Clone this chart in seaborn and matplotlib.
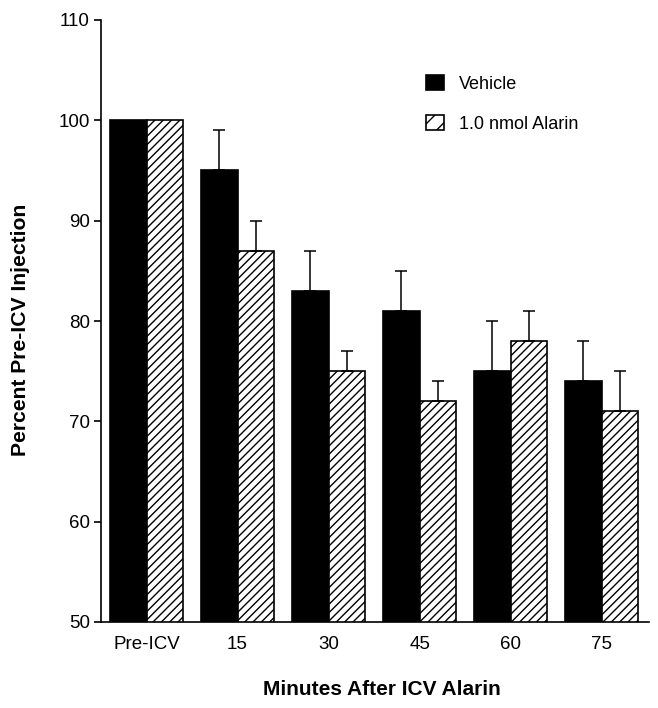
import numpy as np
import pandas as pd
import matplotlib
matplotlib.use("Agg")
import matplotlib.pyplot as plt
from matplotlib.patches import Patch
import seaborn as sns

# ---- data ----
categories = ["Pre-ICV", "15", "30", "45", "60", "75"]
series_names = ["Vehicle", "1.0 nmol Alarin"]
vehicle = [100, 95, 83, 81, 75, 74]
vehicle_err = [0, 4, 4, 4, 5, 4]
alarin = [100, 87, 75, 72, 78, 71]
alarin_err = [0, 3, 2, 2, 3, 4]
y_ticks = [50, 60, 70, 80, 90, 100, 110]
x_label = "Minutes After ICV Alarin"
y_label = "Percent Pre-ICV Injection"

df = pd.DataFrame({
    "time": categories * 2,
    "group": [series_names[0]] * len(categories) + [series_names[1]] * len(categories),
    "value": vehicle + alarin,
})

sns.set_style("ticks")
plt.rcParams["font.family"] = ["Liberation Sans", "DejaVu Sans"]
plt.rcParams["hatch.linewidth"] = 1.0
plt.rcParams["hatch.color"] = "black"
plt.rcParams["text.color"] = "black"
plt.rcParams["axes.labelcolor"] = "black"

W, H = 658, 708
fig = plt.figure(figsize=(W / 100, H / 100), dpi=100)
ax = fig.add_axes([101 / W, 1 - 622 / H, 548 / W, 602 / H])

sns.barplot(data=df, x="time", y="value", hue="group", order=categories,
            hue_order=series_names, palette=["black", "white"], saturation=1,
            edgecolor="black", linewidth=1.2, errorbar=None, width=0.8,
            legend=False, ax=ax)

for p in ax.containers[1]:
    p.set_hatch("////")

for cont, errs in zip(ax.containers, [vehicle_err, alarin_err]):
    xs = np.array([p.get_x() + p.get_width() / 2 for p in cont])
    hs = np.array([p.get_height() for p in cont])
    e = np.array(errs, dtype=float)
    m = e > 0
    ax.errorbar(xs[m], hs[m], yerr=[np.zeros(m.sum()), e[m]], fmt="none",
                ecolor="black", elinewidth=1.1, capsize=4, capthick=1.1, zorder=1)

ax.set_ylim(50, 110)
ax.set_xlim(-0.5, 5.52)
ax.set_yticks(y_ticks)
ax.set_yticklabels([str(t) for t in y_ticks])
sns.despine(ax=ax)
for s in ["left", "bottom"]:
    ax.spines[s].set_linewidth(1.2)
    ax.spines[s].set_color("black")
ax.tick_params(axis="y", length=5, width=1.2, labelsize=13.5, pad=3, colors="black")
ax.tick_params(axis="x", length=0, labelsize=13.5, pad=10, colors="black")

ax.set_xlabel(x_label, fontsize=15, fontweight="bold", color="black")
ax.set_ylabel(y_label, fontsize=15.2, fontweight="bold", color="black")
ax.xaxis.set_label_coords(0.513, -0.097)
ax.yaxis.set_label_coords(-0.13, 0.486)

handles = [Patch(facecolor="black", edgecolor="black", linewidth=1.2),
           Patch(facecolor="white", edgecolor="black", linewidth=1.2, hatch="//")]
fig.legend(handles, series_names, loc="upper left", bbox_to_anchor=(426 / W, 1 - 75 / H),
           frameon=False, fontsize=13, handlelength=1.0, handleheight=0.9,
           handletextpad=0.85, labelspacing=1.25, borderpad=0, borderaxespad=0)

fig.savefig("out.png", dpi=100)
